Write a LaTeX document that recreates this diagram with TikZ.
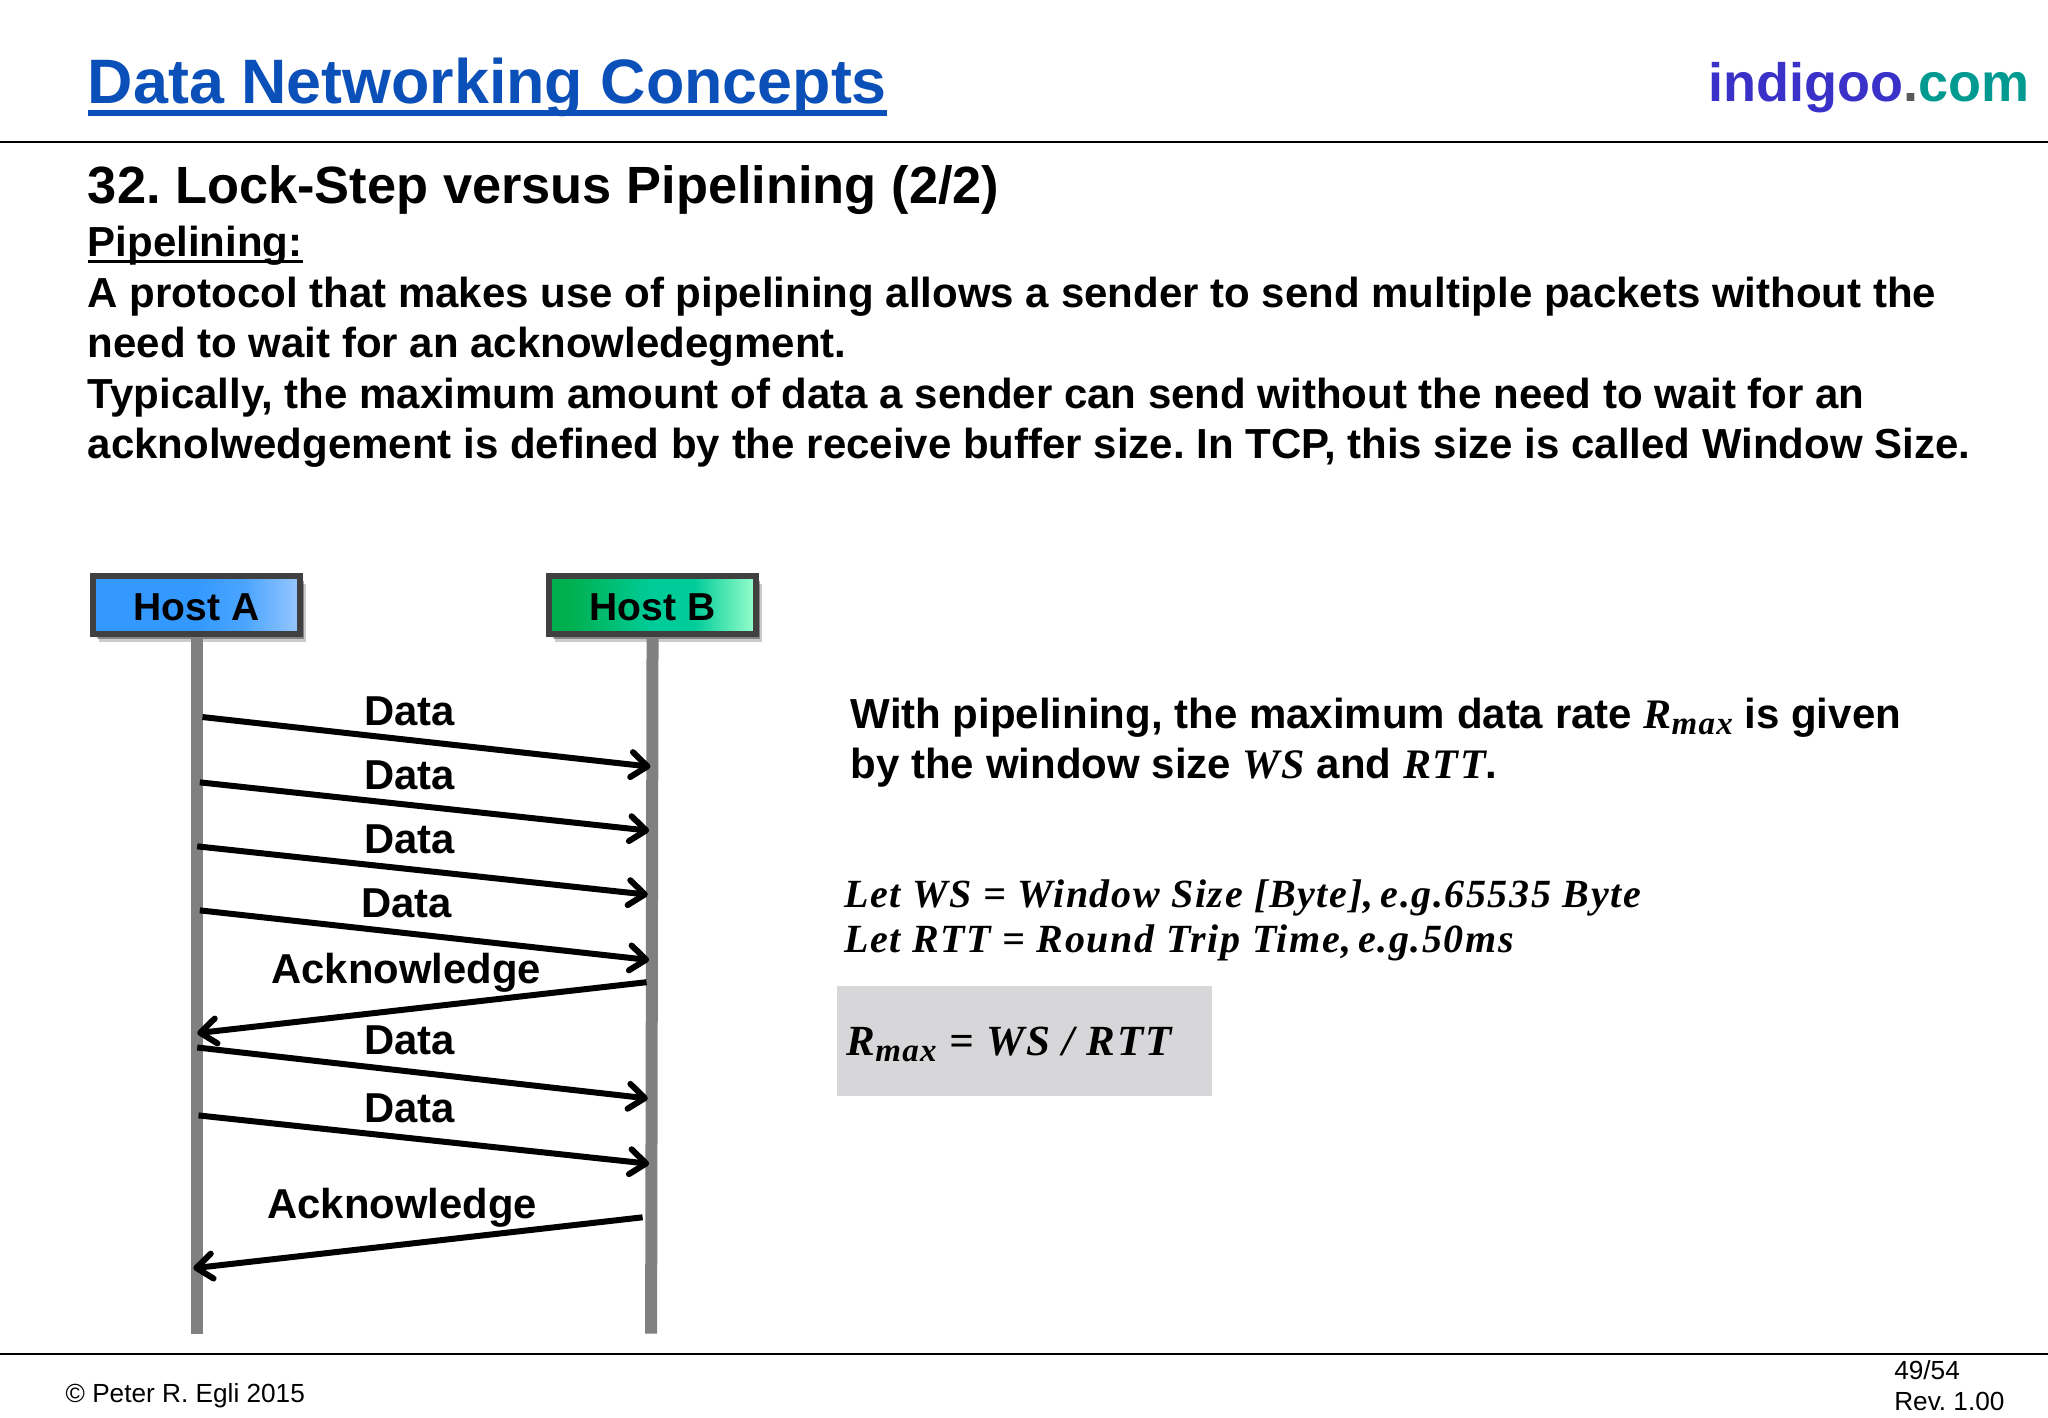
\documentclass[tikz,border=0pt]{standalone}
\usepackage{fontspec}
\setmainfont{Liberation Sans}
\newfontfamily\eqfont{Liberation Serif}[BoldItalicFont={Liberation Serif Bold Italic},LetterSpace=4]
\usetikzlibrary{shadows,arrows.meta}
\definecolor{titleblue}{HTML}{0B50B8}
\definecolor{indigotext}{HTML}{3A32C8}
\definecolor{comtext}{HTML}{009A90}
\definecolor{lifegray}{HTML}{808080}
\definecolor{boxgray}{HTML}{D7D7D9}
\pgfdeclarehorizontalshading{hostashade}{100bp}{rgb(0bp)=(0.2,0.6,1);rgb(50bp)=(0.2,0.6,1);rgb(62bp)=(0.3,0.65,1);rgb(75bp)=(0.6,0.78,1);rgb(100bp)=(0.6,0.78,1)}
\pgfdeclarehorizontalshading{hostbshade}{100bp}{rgb(0bp)=(0,0.69,0.31);rgb(30bp)=(0,0.69,0.31);rgb(50bp)=(0,0.8,0.6);rgb(60bp)=(0,0.8,0.6);rgb(75bp)=(0.6,1,0.8);rgb(100bp)=(0.6,1,0.8)}
\newcommand{\eqtext}[1]{{\eqfont\bfseries\itshape #1}}
\newcommand{\eqsub}[1]{\raisebox{-0.3ex}{\fontsize{16.5}{16}\selectfont #1}}
\begin{document}
\frenchspacing
\begin{tikzpicture}[
        x=0.6531pt, y=-0.6531pt,
        node distance=228pt,
        hostbox/.style={rectangle, draw=black!75, line width=3pt, minimum width=103.5pt, minimum height=29pt, inner sep=0pt, text height=15.5pt, font=\fontsize{19.5}{22}\selectfont\bfseries, drop shadow={shadow xshift=3pt, shadow yshift=-4pt, fill=black, opacity=.2}, drop shadow={shadow xshift=2pt, shadow yshift=-2.5pt, fill=black, opacity=.35}},
        lifeline/.style={lifegray, line width=6pt},
        msg/.style={->, line width=3pt, >={Straight Barb[length=8pt,width=12.5pt,round]}},
        msglabel/.style={font=\fontsize{20.9}{24}\selectfont\bfseries, inner sep=0pt},
        line/.style={anchor=base west, inner sep=0pt, font=\fontsize{21}{24}\selectfont\bfseries},
        rule/.style={black, line width=1pt}
    ]
        \useasboundingbox (0,0) rectangle (1568,1085.6);

        % header
        \node[line, font=\fontsize{31.4}{34}\selectfont\bfseries, text=titleblue] (title) at (67,79) {Data Networking Concepts};
        \draw[titleblue, line width=3pt] ([yshift=-5pt]title.base west) -- ([yshift=-5pt]title.base east);
        \node[line, font=\fontsize{27}{30}\selectfont\bfseries, anchor=base east] (logo) at (1554,78) {\textcolor{indigotext}{indigoo}\textcolor{black!65}{.}\textcolor{comtext}{com}};
        \coordinate (topl) at (0,108.5);
        \coordinate (topr) at (1568,108.5);
        \draw[rule] (topl) -- (topr);

        % text
        \node[line, font=\fontsize{26.2}{30}\selectfont\bfseries] (heading) at (67,156) {32. Lock-Step versus Pipelining (2/2)};
        \node[line] (sub) at (67,196.5) {Pipelining:};
        \draw[line width=1.4pt] ([yshift=-2.6pt]sub.base west) -- ([yshift=-2.6pt]sub.base east);
        \node[line] (text1) at (67,235.5) {A protocol that makes use of pipelining allows a sender to send multiple packets without the};
        \node[line] (text2) at (67,273.5) {need to wait for an acknowledegment.};
        \node[line] (text3) at (67,312.5) {Typically, the maximum amount of data a sender can send without the need to wait for an};
        \node[line] (text4) at (67,351) {acknolwedgement is defined by the receive buffer size. In TCP, this size is called Window Size.};

        % hosts
        \node[hostbox, shading=hostashade] (hosta) at (150.5,463.5) {Host A};
        \node[hostbox, shading=hostbshade, right of=hosta] (hostb) {Host B};

        \coordinate (enda) at (150.5,1021);
        \coordinate (endb) at (498.5,1021);
        \draw[lifeline] (hosta.south) -- (enda);
        \draw[lifeline] (hostb.south) -- (endb);

        % messages
        \coordinate (a1) at (155,549);  \coordinate (b1) at (498,587);
        \coordinate (a2) at (153,599);  \coordinate (b2) at (497,636);
        \coordinate (a3) at (151,648);  \coordinate (b3) at (496,685);
        \coordinate (a4) at (153,697);  \coordinate (b4) at (497,735);
        \coordinate (b5) at (495,752);  \coordinate (a5) at (151,791);
        \coordinate (a6) at (151,802);  \coordinate (b6) at (496,841);
        \coordinate (a7) at (152,854);  \coordinate (b7) at (497,891);
        \coordinate (b8) at (492,932);  \coordinate (a8) at (148,971);

        \draw[msg] (a1) -- (b1);
        \draw[msg] (a2) -- (b2);
        \draw[msg] (a3) -- (b3);
        \draw[msg] (a4) -- (b4);
        \draw[msg] (b5) -- (a5);
        \draw[msg] (a6) -- (b6);
        \draw[msg] (a7) -- (b7);
        \draw[msg] (b8) -- (a8);

        \node[msglabel] (data1) at (313.5,544.5) {Data};
        \node[msglabel] (data2) at (313.5,593.5) {Data};
        \node[msglabel] (data3) at (313.5,642.5) {Data};
        \node[msglabel] (data4) at (311.5,691.5) {Data};
        \node[msglabel] (ack1) at (311,744.5) {Acknowledge};
        \node[msglabel] (data5) at (313.5,796.5) {Data};
        \node[msglabel] (data6) at (313.5,848.5) {Data};
        \node[msglabel] (ack2) at (308,924.5) {Acknowledge};

        % rate
        \node[line] (rate1) at (651,558) {With pipelining, the maximum data rate \eqtext{R\eqsub{max}} is given};
        \node[line] (rate2) at (651,596) {by the window size \eqtext{WS} and \eqtext{RTT}.};
        \node[line, font=\fontsize{20}{22}\selectfont] (let1) at (646,695) {\eqtext{Let WS = Window Size [Byte],\,e.g.65535 Byte}};
        \node[line, font=\fontsize{20}{22}\selectfont] (let2) at (646,729) {\eqtext{Let RTT = Round Trip Time,\,e.g.50ms}};
        \coordinate (boxa) at (641,755);
        \coordinate (boxb) at (928,839);
        \fill[boxgray] (boxa) rectangle (boxb);
        \node[line, font=\fontsize{21.5}{26}\selectfont] (rmax) at (648,808) {\eqtext{R\eqsub{max} = WS / RTT}};

        % footer
        \coordinate (botl) at (0,1037);
        \coordinate (botr) at (1568,1037);
        \draw[rule] (botl) -- (botr);
        \node[line, font=\fontsize{13.1}{16}\selectfont] (copy) at (50,1074) {© Peter R. Egli 2015};
        \node[line, font=\fontsize{13.1}{16}\selectfont] (page) at (1450,1056) {49/54};
        \node[line, font=\fontsize{13.1}{16}\selectfont] (rev) at (1450,1080) {Rev. 1.00};
    \end{tikzpicture}
\end{document}
